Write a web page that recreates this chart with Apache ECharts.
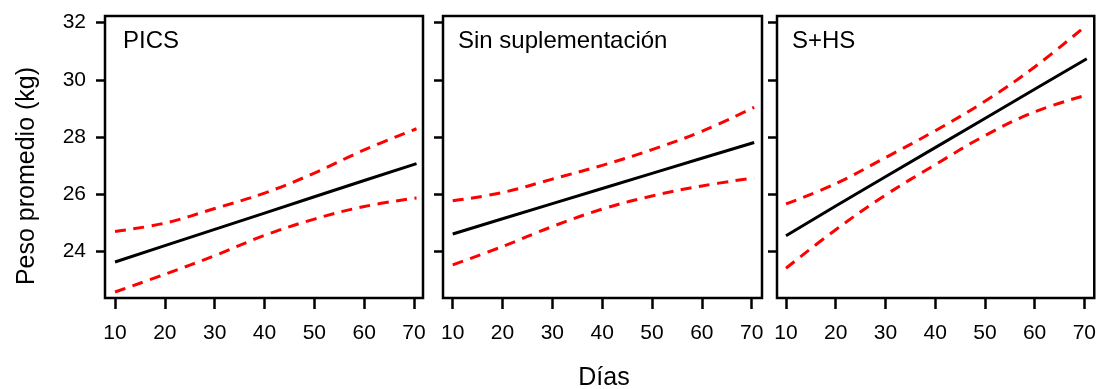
<!DOCTYPE html>
<html>
<head>
<meta charset="utf-8">
<title>Peso promedio</title>
<script src="https://cdn.jsdelivr.net/npm/echarts@6/dist/echarts.min.js"></script>
<style>
  html, body { margin: 0; padding: 0; background: #fff; }
  #chart { width: 1099px; height: 389px; }
</style>
</head>
<body>
<div id="chart"></div>
<script>
const dias = [10, 20, 30, 40, 50, 60, 70.5]
const xTicks = [10, 20, 30, 40, 50, 60, 70]
const yTicks = [24, 26, 28, 30, 32]
const paneles = ['PICS', 'Sin suplementación', 'S+HS']

// PICS
const picsMedia = [23.63, 24.2, 24.77, 25.34, 25.91, 26.48, 27.07]
const picsSup = [24.7, 24.99, 25.5, 26.04, 26.74, 27.55, 28.29]
const picsInf = [22.58, 23.2, 23.85, 24.56, 25.13, 25.57, 25.87]

// Sin suplementación
const sinMedia = [24.61, 25.14, 25.67, 26.2, 26.73, 27.26, 27.81]
const sinSup = [25.77, 26.06, 26.53, 27.01, 27.56, 28.2, 29.04]
const sinInf = [23.53, 24.17, 24.87, 25.48, 25.94, 26.29, 26.57]

// S+HS
const shsMedia = [24.55, 25.59, 26.61, 27.63, 28.65, 29.67, 30.74]
const shsSup = [25.66, 26.37, 27.28, 28.22, 29.25, 30.45, 31.92]
const shsInf = [23.41, 24.76, 25.97, 27.03, 28.05, 28.88, 29.47]

const grupos = [
  { media: picsMedia, sup: picsSup, inf: picsInf },
  { media: sinMedia, sup: sinSup, inf: sinInf },
  { media: shsMedia, sup: shsSup, inf: shsInf }
]

const font = '"Liberation Sans", Arial, Helvetica, sans-serif'
const boxes = [
  { left: 105, width: 318, xMin: 7.99, xMax: 71.8 },
  { left: 443, width: 319, xMin: 8.05, xMax: 72.07 },
  { left: 777, width: 318, xMin: 8.19, xMax: 72.0 }
]

const toPairs = arr => dias.map((d, i) => [d, arr[i]])

const chart = echarts.init(document.getElementById('chart'))

const grid = boxes.map(b => ({
  left: b.left,
  width: b.width,
  top: 16,
  height: 282,
  show: true,
  borderColor: '#000',
  borderWidth: 2.5,
  backgroundColor: '#fff'
}))

const xAxis = boxes.map((b, i) => ({
  type: 'value',
  gridIndex: i,
  min: b.xMin,
  max: b.xMax,
  axisLine: { show: false },
  splitLine: { show: false },
  axisTick: {
    show: true,
    customValues: xTicks,
    length: 11,
    lineStyle: { color: '#000', width: 2.5 }
  },
  axisLabel: {
    customValues: xTicks,
    color: '#000',
    fontSize: 21,
    fontFamily: font,
    margin: 25
  }
}))

const yAxis = boxes.map((b, i) => ({
  type: 'value',
  gridIndex: i,
  min: 22.37,
  max: 32.234,
  axisLine: { show: false },
  splitLine: { show: false },
  axisTick: {
    show: true,
    customValues: yTicks,
    length: 9,
    lineStyle: { color: '#000', width: 2.5 }
  },
  axisLabel: {
    show: i === 0,
    customValues: yTicks,
    color: '#000',
    fontSize: 21,
    fontFamily: font,
    margin: 19
  }
}))

let series = []
grupos.forEach((g, i) => {
  series.push({
    type: 'line',
    xAxisIndex: i,
    yAxisIndex: i,
    data: toPairs(g.media),
    showSymbol: false,
    lineStyle: { color: '#000', width: 3 }
  })
  ;[g.sup, g.inf].forEach(arr => {
    series.push({
      type: 'line',
      xAxisIndex: i,
      yAxisIndex: i,
      data: toPairs(arr),
      smooth: 0.4,
      showSymbol: false,
      lineStyle: { color: '#ff0000', width: 3, type: [11, 7.5] }
    })
  })
})

const etiquetas = [123, 458, 792].map((x, i) => ({
  type: 'text',
  x: x,
  y: 41,
  z: 100,
  style: {
    text: paneles[i],
    font: '24px ' + font,
    fill: '#000',
    textAlign: 'left',
    textVerticalAlign: 'middle'
  }
}))

chart.setOption({
  animation: false,
  grid: grid,
  xAxis: xAxis,
  yAxis: yAxis,
  series: series,
  graphic: etiquetas.concat([
    {
      type: 'text',
      x: 604,
      y: 378,
      style: {
        text: 'Días',
        font: '25px ' + font,
        fill: '#000',
        textAlign: 'center',
        textVerticalAlign: 'middle'
      }
    },
    {
      type: 'text',
      x: 27,
      y: 176,
      rotation: Math.PI / 2,
      style: {
        text: 'Peso promedio (kg)',
        font: '25px ' + font,
        fill: '#000',
        textAlign: 'center',
        textVerticalAlign: 'middle'
      }
    }
  ])
})
</script>
</body>
</html>
